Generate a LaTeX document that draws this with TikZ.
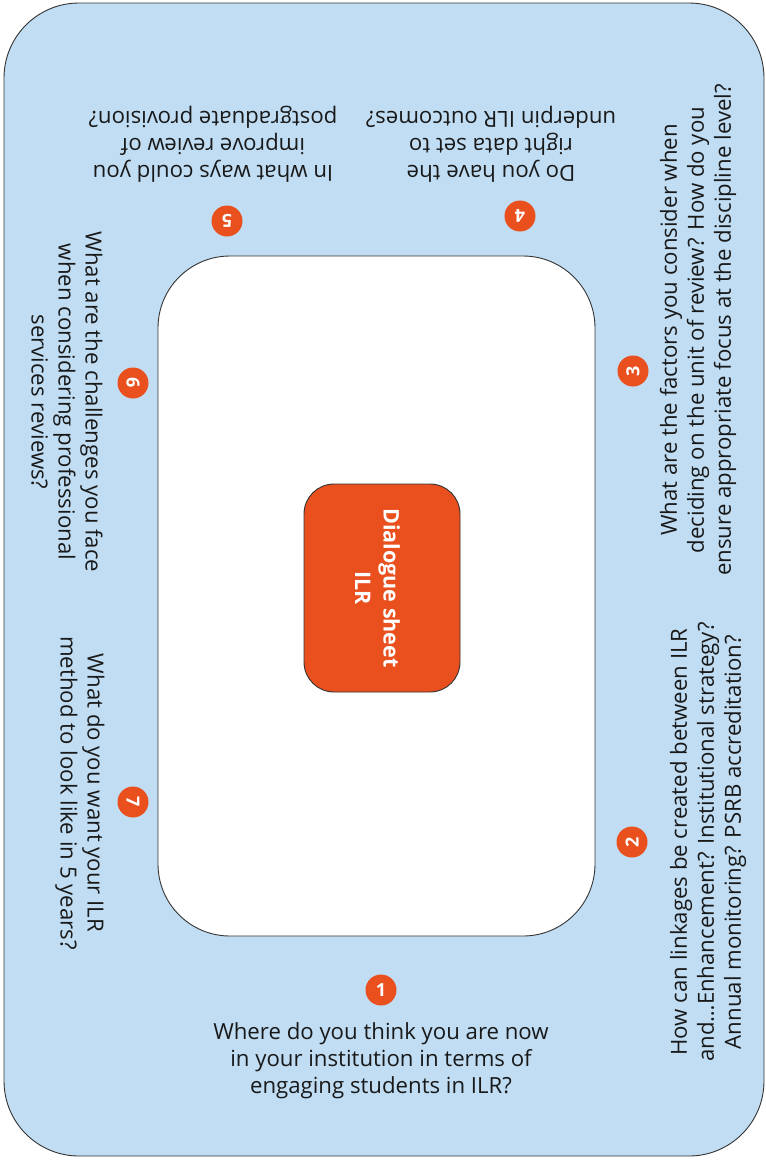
\documentclass[tikz,border=0pt]{standalone}
\usepackage{fontspec}
\setmainfont{Open Sans}
\definecolor{bgblue}{RGB}{192,221,243}
\definecolor{ilrorange}{RGB}{233,80,30}
\begin{document}
\begin{tikzpicture}[x=1pt,y=-1pt,
  q/.style={align=center,font=\fontsize{22.2}{27}\selectfont,inner sep=0pt,text=black!90},
  num/.style={circle,fill=ilrorange,text=white,font=\fontsize{18}{18}\selectfont\bfseries,minimum size=31pt,inner sep=0pt},
  panel/.style={draw=black!80,line width=0.9pt}]
\useasboundingbox (0,0) rectangle (766,1160);
\draw[panel,fill=bgblue,rounded corners=75pt] (4,3) rectangle (764,1156);
\draw[panel,fill=white,rounded corners=72pt] (158,256) rectangle (595,936);
\node[panel,fill=ilrorange,rounded corners=30pt,minimum width=156pt,minimum height=208pt,inner sep=0pt] (centre) at (382,588) {};
\node[rotate=-90,align=center,text=white,font=\fontsize{21.5}{28.5}\selectfont\bfseries,inner sep=0pt] (title) at (377.5,588) {Dialogue sheet\\ILR};

\node[num] (n1) at (381,990) {1};
\node[num,rotate=90] (n2) at (632,842) {2};
\node[num,rotate=90] (n3) at (633,371) {3};
\node[num,rotate=180] (n4) at (520,216) {4};
\node[num,rotate=180] (n5) at (227,221) {5};
\node[num,rotate=-90] (n6) at (133,383) {6};
\node[num,rotate=-90] (n7) at (133,802) {7};

\node[q] (q1) at (381,1061) {Where do you think you are now\\in your institution in terms of\\engaging students in ILR?};
\node[q,rotate=90] (q2) at (708,842) {How can linkages be created between ILR\\and\ldots Enhancement? Institutional strategy?\\Annual monitoring? PSRB accreditation?};
\node[q,rotate=90] (q3) at (698,330) {What are the factors you consider when\\deciding on the unit of review? How do you\\ensure appropriate focus at the discipline level?};
\node[q,rotate=180] (q4) at (491,144) {Do you have the\\right data set to\\underpin ILR outcomes?};
\node[q,rotate=180] (q5) at (213,144) {In what ways could you\\improve review of\\postgraduate provision?};
\node[q,rotate=-90] (q6) at (67,402) {What are the challenges you face\\when considering professional\\services reviews?};
\node[q,rotate=-90] (q7) at (80,793) {What do you want your ILR\\method to look like in 5 years?};
\end{tikzpicture}
\end{document}
